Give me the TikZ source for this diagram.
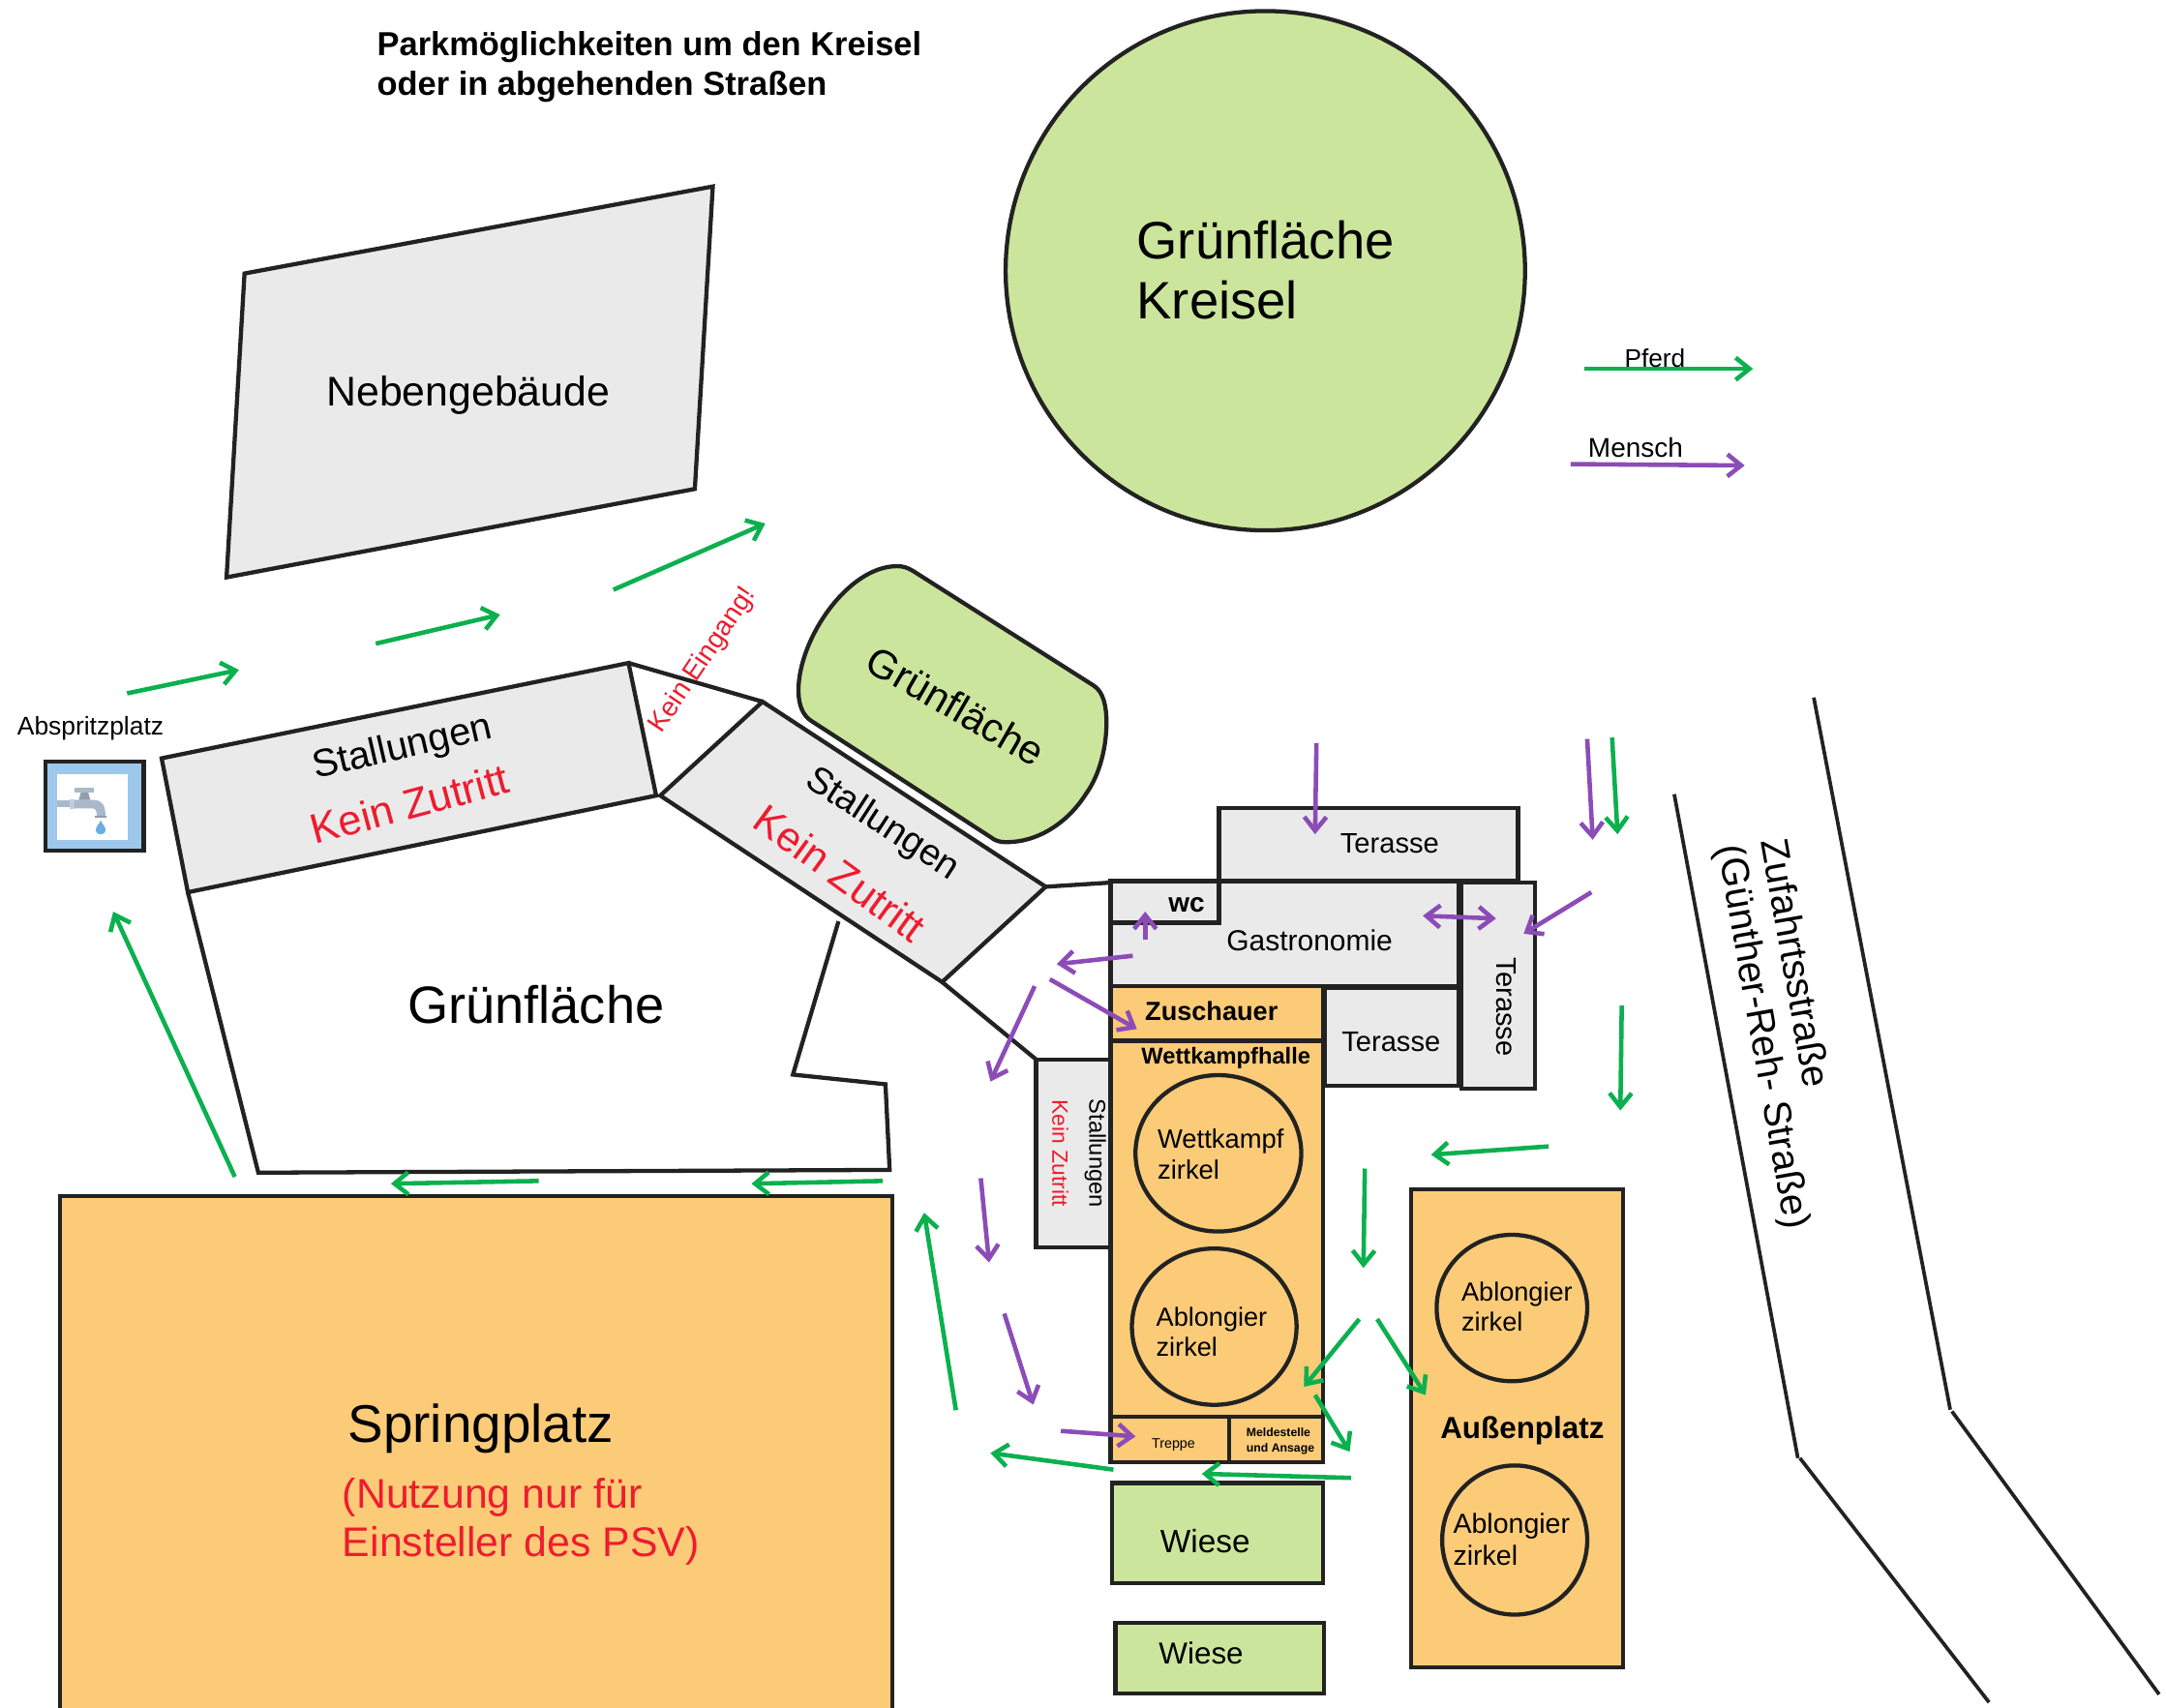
\documentclass[tikz,border=0pt]{standalone}
\usepackage{fontspec}
\setmainfont{Liberation Sans}
\usetikzlibrary{arrows.meta}
\definecolor{ink}{HTML}{222222}
\definecolor{grayfill}{HTML}{EAEAEA}
\definecolor{grass}{HTML}{CCE59C}
\definecolor{sand}{HTML}{FBCB78}
\definecolor{gr}{HTML}{0BB04F}
\definecolor{pu}{HTML}{8C4CB8}
\definecolor{rd}{HTML}{EE1C2E}
\definecolor{pipe}{HTML}{A9B9CB}
\definecolor{skyfill}{HTML}{9DC8EC}
\newcommand{\fs}[1]{\fontsize{#1}{#1}\selectfont}
\tikzset{
  x=0.5pt,y=-0.5pt,
  wall/.style={draw=ink,line width=1.5pt,line join=miter},
  thin wall/.style={draw=ink,line width=1.3pt},
  gbox/.style={wall,fill=grayfill},
  obox/.style={wall,fill=sand},
  lbox/.style={wall,fill=grass},
  gra/.style={draw=gr,line width=1.6pt,-{Straight Barb[length=5pt,width=8pt]}},
  pua/.style={draw=pu,line width=1.6pt,-{Straight Barb[length=5pt,width=8pt]}},
  pub/.style={draw=pu,line width=1.6pt,{Straight Barb[length=5pt,width=8pt]}-{Straight Barb[length=5pt,width=8pt]}},
  lab/.style={inner sep=0pt,outer sep=0pt,anchor=base west,align=left},
  mid/.style={inner sep=0pt,outer sep=0pt,anchor=center,align=left},
}
\begin{document}
\begin{tikzpicture}
\useasboundingbox (0,0) rectangle (1568,1236.6);
\fill[white] (0,0) rectangle (1568,1236.6);
% title
\node[lab] (title1) at (273,40.5) {\fs{12.06}\bfseries Parkmöglichkeiten um den Kreisel};
\node[lab] (title2) at (273,69) {\fs{12.06}\bfseries oder in abgehenden Straßen};
% Kreisel
\draw[lbox] (916,196) circle [radius=188];
\node[lab] (kr1) at (823,187.5) {\fs{19.05}Grünfläche};
\node[lab] (kr2) at (823,231) {\fs{19.05}Kreisel};
% Nebengebaeude
\draw[gbox] (177,198) -- (516,135) -- (503,354) -- (164,418) -- cycle;
\node[mid] (neben) at (339,286) {\fs{15}Nebengebäude};
% Legend
\draw[gra] (1147,267) -- (1269,267);
\node[mid] (pferd) at (1198,259) {\fs{9.2}Pferd};
\draw[pua] (1137,336) -- (1263,337);
\node[mid] (mensch) at (1184,324) {\fs{9.8}Mensch};
% Green pad
\draw[lbox] (649.3,409.9) .. controls (654,409.9) and (657,411) .. (661,413.4)
  -- (791.8,496.4) .. controls (799,501) and (801,512) .. (801,523)
  .. controls (801,540) and (796.5,560.6) .. (786,575)
  .. controls (772,597) and (750,609.7) .. (729,609.7)
  .. controls (724,610) and (720,608.5) .. (717,606)
  -- (587.4,522) .. controls (581,518) and (578,510) .. (578,499.9)
  .. controls (578,462.5) and (614,409.9) .. (649.3,409.9) -- cycle;
\node[mid,rotate=-30] (pad) at (692,511) {\fs{14.6}Grünfläche};
% big green boundary
\draw[wall] (136,646) -- (187,849) -- (644,847) -- (641,785) -- (574,778) -- (607,667);
% Stallungen 1
\draw[gbox] (117,549) -- (455,480) -- (475,576) -- (136,646) -- cycle;
\node[mid,rotate=13] (st1) at (291.5,542) {\fs{14}Stallungen};
\node[mid,rotate=15] (kz1) at (296.5,582) {\fs{15.2}\color{rd}Kein Zutritt};
% Stallungen 2
\draw[wall] (455,480) -- (552,508);
\draw[gbox] (552,508) -- (757,642) -- (682,711) -- (478,576) -- cycle;
\node[mid,rotate=-33] (st2) at (638.5,597) {\fs{13.4}Stallungen};
\node[mid,rotate=-36] (kz2) at (608,632) {\fs{15}\color{rd}Kein Zutritt};
\node[mid,rotate=56] (ke) at (509,478) {\fs{9.8}\color{rd}Kein Eingang!};
\draw[wall] (757,642) -- (804,639);
\draw[wall] (682,711) -- (750,767);
\node[mid] (gf) at (388,727) {\fs{19}Grünfläche};
% Stallungen 3
\draw[gbox] (750,767) rectangle (804,903);
\node[mid,rotate=-90] (st3) at (793,835) {\fs{8.3}Stallungen};
\node[mid,rotate=-90] (kz3) at (767.5,835) {\fs{8}\color{rd}Kein Zutritt};
% Springplatz
\fill[sand] (43.5,866) rectangle (646,1240);
\draw[wall] (43.5,1245) -- (43.5,866) -- (646,866) -- (646,1245);
\node[lab] (sp) at (252,1044) {\fs{19.2}Springplatz};
\node[lab] (sp1) at (248,1092) {\fs{15}\color{rd}(Nutzung nur für};
\node[lab] (sp2) at (248,1127) {\fs{15}\color{rd}Einsteller des PSV)};
% Abspritzplatz
\node[mid] (ab) at (65.5,527) {\fs{9.25}Abspritzplatz};
\draw[wall,fill=skyfill] (33,551.6) rectangle (104,615.6);
\fill[white] (41.4,560.5) rectangle (92.5,608);
\begin{scope}[shift={(0,490.4)},x=0.1168pt,y=-0.1168pt]
  \fill[pipe] (177,382) rectangle (220,403);
  \fill[pipe!70!white] (215,377) rectangle (230,409);
  \fill[pipe] (230,380) -- (290,380) .. controls (315,380) and (327,395) .. (327,430)
     -- (300,430) .. controls (300,412) and (296,406) .. (285,406) -- (230,406) -- cycle;
  \fill[pipe!85!black] (293,429) rectangle (330,435);
  \fill[pipe!85!black] (252,352) -- (272,352) -- (280,380) -- (244,380) -- cycle;
  \fill[pipe] (232,342) rectangle (292,356);
  \fill[cyan!70!blue!60!white] (312,443) .. controls (316,455) and (327,462) .. (327,472)
     .. controls (327,492) and (297,492) .. (297,472)
     .. controls (297,462) and (308,455) .. (312,443) -- cycle;
\end{scope}
% Terasse top, Gastro
\draw[gbox] (882.5,585) rectangle (1099,638);
\draw[gbox] (804,638) rectangle (1056,714);
\draw[gbox] (804,638) rectangle (882.5,668);
\node[mid] (wc) at (859,655) {\fs{9.8}\bfseries wc};
\node[mid] (ter1) at (1006,611) {\fs{10.2}Terasse};
\node[mid] (gas) at (948,681) {\fs{10.5}Gastronomie};
\draw[gbox] (1058,639) rectangle (1111,788);
\node[mid,rotate=-90] (ter2) at (1090.5,729) {\fs{10.2}Terasse};
\draw[gbox] (959,715.5) rectangle (1056,786);
\node[mid] (ter3) at (1007,754) {\fs{10.2}Terasse};
% Halle
\draw[obox] (804,714) rectangle (957.6,753.5);
\node[mid] (zu) at (877,732) {\fs{9.5}\bfseries Zuschauer};
\draw[obox] (804,753.5) rectangle (957.6,1058.5);
\node[mid] (wh) at (887.5,766) {\fs{8.3}\bfseries Wettkampfhalle};
\draw[wall,fill=sand] (882,835) ellipse [x radius=60,y radius=56.6];
\node[lab] (wz1) at (838,831) {\fs{9.6}Wettkampf};
\node[lab] (wz2) at (838,854) {\fs{9.6}zirkel};
\draw[wall,fill=sand] (879,960.5) ellipse [x radius=59.6,y radius=56.6];
\node[lab] (az1) at (837,960) {\fs{9.5}Ablongier};
\node[lab] (az2) at (837,982) {\fs{9.5}zirkel};
\draw[wall] (804,1025.5) -- (957.6,1025.5);
\draw[wall] (890,1025.5) -- (890,1058.5);
\node[mid] (tr) at (849.5,1046) {\fs{5}Treppe};
\node[lab] (ms1) at (902.3,1040) {\fs{4.3}\bfseries Meldestelle};
\node[lab] (ms2) at (902.3,1051) {\fs{4.3}\bfseries und Ansage};
% Wiese
\draw[lbox] (805,1073.7) rectangle (957.6,1146.3);
\node[mid] (w1) at (872.5,1116) {\fs{11.7}Wiese};
\draw[lbox] (807.4,1174.9) rectangle (958.5,1226);
\node[mid] (w2) at (869.5,1197) {\fs{11}Wiese};
% Aussenplatz
\draw[obox] (1021.5,861) rectangle (1175,1207);
\draw[wall,fill=sand] (1094.5,947) ellipse [x radius=54.5,y radius=53];
\node[lab] (a1) at (1058,942) {\fs{9.5}Ablongier};
\node[lab] (a2) at (1058,964) {\fs{9.5}zirkel};
\node[mid] (ap) at (1102,1036) {\fs{11}\bfseries Außenplatz};
\draw[wall,fill=sand] (1096.5,1115) ellipse [x radius=52.5,y radius=54];
\node[lab] (a3) at (1052,1110) {\fs{10}Ablongier};
\node[lab] (a4) at (1052,1133) {\fs{10}zirkel};
% Roads
\draw[thin wall] (1212,575) -- (1301.5,1055.7);
\draw[thin wall] (1303,1055.7) -- (1439.9,1232.5);
\draw[thin wall] (1313,505) -- (1411.8,1020.6);
\draw[thin wall] (1413,1021.8) -- (1563,1226.7);
\node[mid,rotate=-80] (z1) at (1300.5,697) {\fs{14}Zufahrtsstraße};
\node[mid,rotate=-80] (z2) at (1275,751) {\fs{14}(Günther-Reh- Straße)};
% green arrows
\draw[gra] (92,502) -- (173,485);
\draw[gra] (272,466) -- (362,445);
\draw[gra] (444,427) -- (554,379);
\draw[gra] (170,852) -- (82,660);
\draw[gra] (390,855) -- (283,857);
\draw[gra] (639,855) -- (544,857);
\draw[gra] (692,1021) -- (669,878);
\draw[gra] (806,1064) -- (717,1052);
\draw[gra] (978,1070) -- (870,1067);
\draw[gra] (1167,534) -- (1171,604);
\draw[gra] (1174,728) -- (1173,804);
\draw[gra] (1121,830) -- (1036,836);
\draw[gra] (988,846) -- (987,918);
\draw[gra] (984,955) -- (944,1004);
\draw[gra] (997,955) -- (1032,1010);
\draw[gra] (952,1010) -- (977,1051);
% purple arrows
\draw[pua] (953,538) -- (952,604);
\draw[pua] (1149,535) -- (1153,608);
\draw[pua] (1152,646) -- (1103,676);
\draw[pub] (1030,663) -- (1083,665);
\draw[pua] (829,680) -- (829,660);
\draw[pua] (820,692) -- (765,698);
\draw[pua] (760,709) -- (823,745);
\draw[pua] (749,714) -- (717,783);
\draw[pua] (710,853) -- (716,914);
\draw[pua] (727,951) -- (748,1017);
\draw[pua] (768,1036) -- (822,1040);
\end{tikzpicture}
\end{document}
